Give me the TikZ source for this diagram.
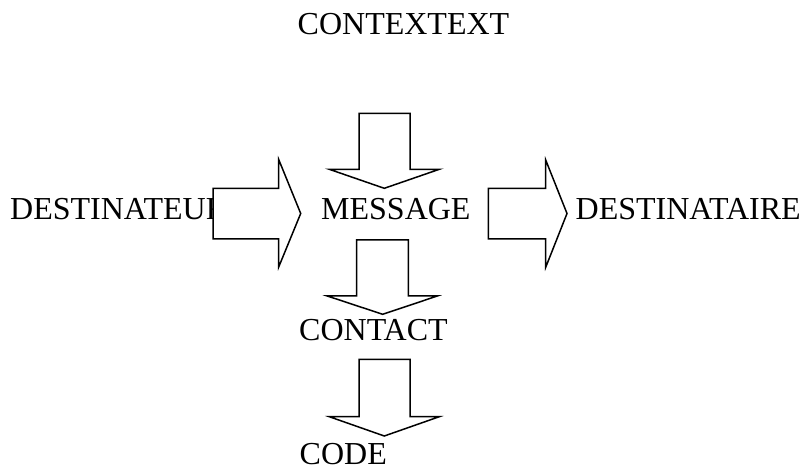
\documentclass[tikz,border=0pt]{standalone}
\usepackage{fontspec}
\setmainfont{Liberation Serif}
\usepackage{tikz}

\begin{document}
\begin{tikzpicture}[x=1pt, y=-1pt,
    word/.style={inner sep=0pt, anchor=base west, font=\fontsize{32}{38}\selectfont},
    blockarrow/.style={draw=black, fill=white, line width=1.5pt, line join=miter}]
    \useasboundingbox (0, 0) rectangle (801, 465);

    \node[word] (context) at (297.5, 34.5) {CONTEXTEXT};
    \node[word] (sender) at (10, 219.3) {DESTINATEUR};
    \node[word] (message) at (321, 219.3) {MESSAGE};
    \node[word] (receiver) at (575.5, 219.3) {DESTINATAIRE};
    \node[word] (contact) at (299, 340.5) {CONTACT};
    \node[word] (code) at (299.5, 464) {CODE};

    % left arrow, drawn over the end of the sender
    \draw[blockarrow] (213, 188.3) -- (278.7, 188.3) -- (278.7, 159.5) -- (300.7, 213.5)
        -- (278.7, 267) -- (278.7, 239) -- (213, 239) -- cycle;
    % right arrow
    \draw[blockarrow] (488.3, 188.3) -- (545.7, 188.3) -- (545.7, 160) -- (567, 213.5)
        -- (545.7, 267.3) -- (545.7, 239) -- (488.3, 239) -- cycle;
    % down arrows
    \draw[blockarrow] (359, 113.3) -- (410, 113.3) -- (410, 169.3) -- (439.3, 169.3)
        -- (384.3, 188.3) -- (329.3, 169.3) -- (359, 169.3) -- cycle;
    \draw[blockarrow] (356.7, 240) -- (408.3, 240) -- (408.3, 296) -- (437.3, 296)
        -- (382.7, 314.3) -- (327.3, 296) -- (356.7, 296) -- cycle;
    \draw[blockarrow] (359, 359.3) -- (410, 359.3) -- (410, 416.7) -- (439.3, 416.7)
        -- (384.3, 436) -- (329.3, 416.7) -- (359, 416.7) -- cycle;
\end{tikzpicture}
\end{document}
